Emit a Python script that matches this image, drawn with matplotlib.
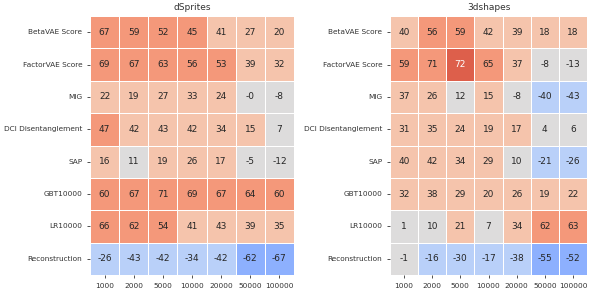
import numpy as np
import matplotlib
matplotlib.use("Agg")
import matplotlib.pyplot as plt
import seaborn as sns

metrics = ["BetaVAE Score", "FactorVAE Score", "MIG", "DCI Disentanglement",
           "SAP", "GBT10000", "LR10000", "Reconstruction"]
sizes = ["1000", "2000", "5000", "10000", "20000", "50000", "100000"]

dsprites = np.array([
    [67, 59, 52, 45, 41, 27, 20],
    [69, 67, 63, 56, 53, 39, 32],
    [22, 19, 27, 33, 24, -0.3, -8],
    [47, 42, 42.7, 42, 34, 15, 7],
    [16, 11, 19, 26, 17, -5, -12],
    [60, 67, 71, 69, 67, 64, 60],
    [66, 62, 54, 41, 42.7, 39, 35],
    [-26, -42.6, -42, -34, -42, -62, -67],
])

shapes3d = np.array([
    [40, 56, 59, 42, 39, 18, 18],
    [59, 71, 72, 65, 37, -8, -13],
    [37, 26, 12, 15, -8, -40, -42.6],
    [31, 35, 24, 19, 17, 4, 6],
    [40, 42, 34, 29, 10, -21, -26],
    [32, 38, 29, 20, 26, 19, 22],
    [1, 10, 21, 7, 34, 62, 63],
    [-1, -16, -30, -17, -38, -55, -52],
])

titles = ["dSprites", "3dshapes"]

fig = plt.figure(figsize=(5.96, 2.94), dpi=100)
axes = [fig.add_axes([90 / 596, 19 / 294, 204 / 596, 259 / 294]),
        fig.add_axes([390 / 596, 19 / 294, 197 / 596, 259 / 294])]

cmap = sns.color_palette("coolwarm", 7)
for ax, data, title in zip(axes, [dsprites, shapes3d], titles):
    sns.heatmap(data, ax=ax, cmap=cmap, vmin=-100, vmax=100, annot=True,
                fmt=".0f", linewidths=0.6, linecolor="white", cbar=False,
                xticklabels=sizes, yticklabels=metrics,
                annot_kws={"fontsize": 6.5})
    ax.set_title(title, fontsize=6.5, color="#333333", pad=4)
    ax.tick_params(labelsize=5.3, length=2, width=0.6, colors="#333333")
    plt.setp(ax.get_yticklabels(), rotation=0)
    plt.setp(ax.get_xticklabels(), rotation=0)

plt.savefig("out.png", dpi=100)
